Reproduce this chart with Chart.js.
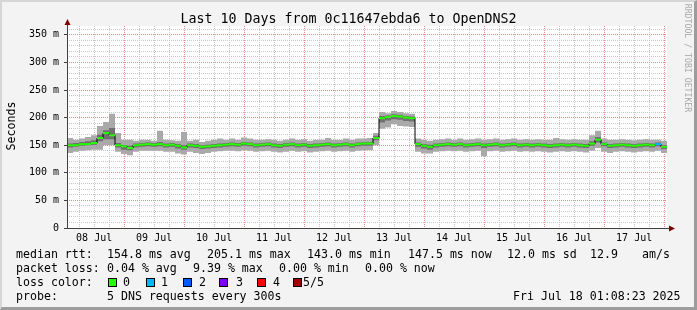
<!DOCTYPE html>
<html>
<head>
<meta charset="utf-8">
<script src="https://cdn.jsdelivr.net/npm/chart.js@4/dist/chart.umd.min.js"></script>
<style>
  html, body { margin: 0; padding: 0; background: #f3f3f3; }
  #wrap { position: relative; width: 697px; height: 310px; overflow: hidden; background: #f3f3f3;
          font-family: "DejaVu Sans Mono", monospace; color: #000; }
  #chart { position: absolute; left: 0; top: 0; }
  .t { position: absolute; white-space: pre; font-size: 11.6px; line-height: 14px; }
  #title { position: absolute; left: 0; width: 697px; top: 11px; text-align: center; font-size: 13.3px; line-height: 16px; white-space: pre; }
  #ylab { position: absolute; left: -15px; top: 119px; width: 52px; text-align: center; transform: rotate(-90deg); }
  #mark { position: absolute; left: 630px; top: 53px; width: 116px; text-align: center; transform: rotate(90deg);
          font-size: 8.2px; line-height: 10px; color: #a8a8a8; white-space: pre; }
  .sw { position: absolute; top: 278px; width: 7px; height: 7px; border: 1px solid #000; }
  #edge { position: absolute; left: 0; top: 0; width: 697px; height: 310px; box-sizing: border-box;
          border-style: solid; border-width: 2px 3px 3px 2px; border-color: #d6d6d6 #9c9c9c #9c9c9c #d6d6d6; }
</style>
</head>
<body>
<div id="wrap">
  <canvas id="chart" width="697" height="250"></canvas>
  <div id="title">Last 10 Days from 0c11647ebda6 to OpenDNS2</div>
  <div id="ylab" class="t">Seconds</div>
  <div id="mark">RRDTOOL / TOBI OETIKER</div>

  <div class="t" style="left:16px;top:247px">median rtt:</div>
  <div class="t" style="left:107px;top:247px">154.8 ms avg</div>
  <div class="t" style="left:207px;top:247px">205.1 ms max</div>
  <div class="t" style="left:307px;top:247px">143.0 ms min</div>
  <div class="t" style="left:408px;top:247px">147.5 ms now</div>
  <div class="t" style="left:507px;top:247px">12.0 ms sd</div>
  <div class="t" style="left:590px;top:247px">12.9</div>
  <div class="t" style="left:642px;top:247px">am/s</div>

  <div class="t" style="left:16px;top:261px">packet loss:</div>
  <div class="t" style="left:107px;top:261px">0.04 % avg</div>
  <div class="t" style="left:193px;top:261px">9.39 % max</div>
  <div class="t" style="left:279px;top:261px">0.00 % min</div>
  <div class="t" style="left:365px;top:261px">0.00 % now</div>

  <div class="t" style="left:16px;top:275px">loss color:</div>
  <div class="sw" style="left:108px;background:#26ff00"></div><div class="t" style="left:123px;top:275px">0</div>
  <div class="sw" style="left:146px;background:#00b8ff"></div><div class="t" style="left:161px;top:275px">1</div>
  <div class="sw" style="left:183px;background:#0059ff"></div><div class="t" style="left:199px;top:275px">2</div>
  <div class="sw" style="left:219px;background:#7e00ff"></div><div class="t" style="left:236px;top:275px">3</div>
  <div class="sw" style="left:257px;background:#ff0000"></div><div class="t" style="left:273px;top:275px">4</div>
  <div class="sw" style="left:293px;background:#a10000"></div><div class="t" style="left:303px;top:275px">5/5</div>

  <div class="t" style="left:16px;top:289px">probe:</div>
  <div class="t" style="left:107px;top:289px">5 DNS requests every 300s</div>
  <div class="t" style="left:513px;top:289px">Fri Jul 18 01:08:23 2025</div>
  <div id="edge"></div>
</div>
<script>
// 10 days, one step = 2.4 hours, starting Jul 8 01:08:23
const stepHours = 2.4;
const startHourOfDay = 1 + 8 / 60 + 23 / 3600;
const dayLabels = ["08 Jul", "09 Jul", "10 Jul", "11 Jul", "12 Jul",
                   "13 Jul", "14 Jul", "15 Jul", "16 Jul", "17 Jul"];

// median rtt (ms)
const median = [
  150, 150, 152, 152, 154, 163, 172, 168, 150, 148,
  145, 150, 151, 152, 151, 152, 150, 151, 149, 146,
  150, 149, 147, 148, 149, 150, 151, 152, 151, 153,
  152, 150, 151, 152, 150, 149, 151, 152, 150, 151,
  149, 150, 151, 152, 150, 151, 152, 150, 152, 153,
  153, 163, 199, 201, 203, 202, 200, 199, 152, 149,
  147, 150, 151, 152, 151, 152, 150, 151, 152, 150,
  151, 152, 150, 151, 152, 150, 151, 150, 151, 150,
  149, 150, 151, 150, 151, 150, 149, 153, 160, 152,
  149, 150, 151, 150, 149, 150, 151, 150, 152, 147
];
// packet loss count per step (0..5)
const lossCount = [
  0, 0, 0, 0, 0, 0, 0, 0, 0, 0,  0, 0, 0, 0, 0, 0, 0, 0, 0, 0,
  0, 0, 0, 0, 0, 0, 0, 0, 0, 0,  0, 0, 0, 0, 0, 0, 0, 0, 0, 0,
  0, 0, 0, 0, 0, 0, 0, 0, 0, 0,  0, 0, 0, 0, 0, 0, 0, 0, 0, 0,
  0, 0, 0, 0, 0, 0, 0, 0, 0, 0,  0, 0, 0, 0, 0, 0, 0, 0, 0, 0,
  0, 0, 0, 0, 0, 0, 0, 0, 0, 0,  0, 0, 0, 0, 0, 0, 0, 0, 1, 0
];
// outer smoke (min / max of pings)
const smokeLow = [
  136, 138, 140, 141, 142, 142, 150, 150, 138, 134,
  132, 138, 140, 140, 140, 140, 138, 138, 135, 133,
  138, 136, 134, 136, 138, 139, 140, 140, 139, 141,
  140, 138, 139, 140, 138, 137, 138, 140, 138, 139,
  137, 138, 139, 140, 138, 139, 140, 138, 140, 141,
  141, 150, 180, 182, 188, 185, 184, 183, 138, 135,
  135, 138, 139, 140, 139, 140, 138, 139, 140, 130,
  139, 140, 138, 139, 140, 138, 139, 138, 139, 138,
  137, 138, 139, 138, 139, 138, 137, 140, 145, 138,
  136, 138, 139, 138, 137, 138, 139, 138, 140, 136
];
const smokeHigh = [
  163, 160, 162, 165, 168, 185, 192, 207, 172, 160,
  160, 158, 160, 160, 158, 176, 160, 159, 158, 174,
  158, 160, 156, 158, 160, 162, 160, 162, 160, 164,
  162, 160, 160, 161, 160, 158, 160, 162, 160, 161,
  158, 160, 160, 163, 160, 160, 162, 160, 162, 162,
  163, 172, 210, 208, 212, 210, 208, 207, 162, 160,
  158, 160, 161, 162, 160, 162, 160, 161, 162, 160,
  161, 162, 160, 161, 162, 160, 161, 160, 161, 160,
  160, 163, 161, 160, 161, 160, 160, 168, 176, 162,
  160, 160, 161, 160, 159, 160, 161, 160, 160, 158
];
// inner smoke
const coreLow = [
  146, 147, 149, 150, 151, 157, 161, 161, 146, 142,
  141, 146, 147, 148, 147, 148, 146, 147, 144, 142,
  146, 145, 143, 144, 145, 146, 147, 148, 147, 149,
  148, 146, 147, 148, 146, 145, 147, 148, 146, 147,
  145, 146, 147, 148, 146, 147, 148, 146, 148, 149,
  149, 159, 191, 195, 197, 196, 194, 193, 147, 144,
  142, 146, 147, 148, 147, 148, 146, 147, 148, 145,
  147, 148, 146, 147, 148, 146, 147, 146, 147, 146,
  145, 146, 147, 146, 147, 146, 145, 149, 155, 148,
  145, 146, 147, 146, 145, 146, 147, 146, 148, 143
];
const coreHigh = [
  153, 154, 156, 157, 159, 169, 177, 181, 154, 150,
  149, 153, 154, 155, 154, 156, 153, 154, 152, 150,
  153, 152, 150, 151, 152, 153, 154, 155, 154, 156,
  155, 153, 154, 155, 153, 152, 154, 155, 153, 154,
  152, 153, 154, 155, 153, 154, 155, 153, 155, 156,
  156, 167, 203, 204, 206, 205, 203, 202, 155, 152,
  151, 153, 154, 155, 154, 155, 153, 154, 155, 153,
  154, 155, 153, 154, 155, 153, 154, 153, 154, 153,
  152, 153, 154, 153, 154, 153, 152, 157, 165, 155,
  152, 153, 154, 153, 152, 153, 154, 153, 155, 150
];
const lossColors = ["#26ff00", "#00b8ff", "#0059ff", "#7e00ff", "#ff0000", "#a10000"];

// step series: one point at the left edge of each step, plus closing point
function steps(arr) {
  const pts = [{ x: 0, y: arr[0] }];
  arr.forEach((v, i) => pts.push({ x: (i + 1) * stepHours, y: v }));
  return pts;
}

const firstSix = 6 - startHourOfDay;
const xTicks = [];
for (let t = firstSix; t <= 240; t += 6) xTicks.push(t);
function xKind(v) {
  return Math.round((v - firstSix) / 6) % 4; // 1 = noon, 3 = midnight
}

const red = "rgb(226,140,140)";
const grey = "rgb(200,200,200)";

const framePlugin = {
  id: "framePlugin",
  beforeDraw(chart) {
    const { ctx, chartArea: a } = chart;
    ctx.save();
    ctx.fillStyle = "#ffffff";
    ctx.fillRect(a.left, a.top, a.right - a.left, a.bottom - a.top);
    ctx.restore();
  },
  afterDraw(chart) {
    const { ctx, chartArea: a } = chart;
    ctx.save();
    ctx.strokeStyle = "#404040";
    ctx.lineWidth = 1;
    ctx.beginPath();
    ctx.moveTo(a.left + 0.5, a.bottom);
    ctx.lineTo(a.left + 0.5, a.top - 3);
    ctx.moveTo(a.left, a.bottom + 0.5);
    ctx.lineTo(a.right + 4, a.bottom + 0.5);
    ctx.stroke();
    ctx.fillStyle = "#7f0000";
    ctx.beginPath();
    ctx.moveTo(a.left + 0.5, a.top - 7);
    ctx.lineTo(a.left - 2.5, a.top - 1);
    ctx.lineTo(a.left + 3.5, a.top - 1);
    ctx.closePath();
    ctx.fill();
    ctx.beginPath();
    ctx.moveTo(a.right + 8, a.bottom + 0.5);
    ctx.lineTo(a.right + 2, a.bottom - 2.5);
    ctx.lineTo(a.right + 2, a.bottom + 3.5);
    ctx.closePath();
    ctx.fill();
    ctx.restore();
  }
};

const ctx = document.getElementById("chart").getContext("2d");
new Chart(ctx, {
  type: "line",
  data: {
    datasets: [
      {
        label: "median",
        data: median.map((v, i) => ({ x: i * stepHours + stepHours / 2, y: v })),
        showLine: false,
        pointStyle: "line",
        pointRadius: 3,
        pointBorderWidth: 2,
        pointBorderColor: lossCount.map(c => lossColors[c]),
        order: 0
      },
      {
        label: "median step",
        data: steps(median),
        stepped: "after",
        borderColor: "#000000",
        borderWidth: 1,
        pointRadius: 0,
        order: 1
      },
      {
        label: "core low",
        data: steps(coreLow),
        stepped: "after",
        borderWidth: 0,
        pointRadius: 0,
        fill: false,
        order: 2
      },
      {
        label: "core high",
        data: steps(coreHigh),
        stepped: "after",
        borderWidth: 0,
        pointRadius: 0,
        fill: "-1",
        backgroundColor: "#707070",
        order: 2
      },
      {
        label: "smoke low",
        data: steps(smokeLow),
        stepped: "after",
        borderWidth: 0,
        pointRadius: 0,
        fill: false,
        order: 4
      },
      {
        label: "smoke high",
        data: steps(smokeHigh),
        stepped: "after",
        borderWidth: 0,
        pointRadius: 0,
        fill: "-1",
        backgroundColor: "#a9a9a9",
        order: 4
      }
    ]
  },
  options: {
    responsive: false,
    animation: false,
    devicePixelRatio: 1,
    layout: { padding: { left: 0, top: 26, right: 30, bottom: 0 } },
    plugins: { legend: { display: false }, tooltip: { enabled: false }, title: { display: false } },
    scales: {
      x: {
        type: "linear",
        min: 0,
        max: 240,
        afterBuildTicks: s => { s.ticks = xTicks.map(v => ({ value: v })); },
        afterFit: s => { s.height = 22; },
        grid: {
          color: c => xKind(c.tick.value) === 3 ? red : grey,
          drawTicks: false
        },
        border: { display: false, dash: [1, 1] },
        ticks: {
          autoSkip: false,
          maxRotation: 0,
          padding: 4,
          color: "#000",
          font: { family: "DejaVu Sans Mono", size: 10 },
          callback: v => xKind(v) === 1 ? dayLabels[Math.round((v - firstSix - 6) / 24)] : ""
        }
      },
      y: {
        min: 0,
        max: 366,
        afterBuildTicks: s => {
          const t = [];
          for (let v = 0; v <= 360; v += 10) t.push({ value: v });
          s.ticks = t;
        },
        afterFit: s => { s.width = 67; },
        grid: {
          color: c => c.tick.value === 0 ? "rgba(0,0,0,0)" : (c.tick.value % 50 === 0 ? red : grey),
          tickColor: c => c.tick.value % 50 === 0 ? "#404040" : "rgba(0,0,0,0)",
          tickLength: 3
        },
        border: { display: false, dash: [1, 1] },
        ticks: {
          autoSkip: false,
          padding: 5,
          color: "#000",
          font: { family: "DejaVu Sans Mono", size: 10 },
          callback: v => v % 50 === 0 ? (v === 0 ? "0" : v + " m") : ""
        }
      }
    }
  },
  plugins: [framePlugin]
});
</script>
</body>
</html>
